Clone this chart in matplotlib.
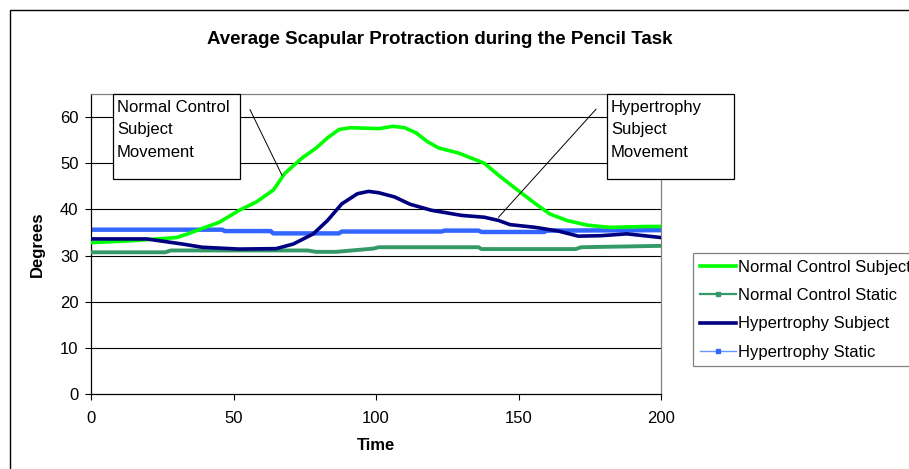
import matplotlib
matplotlib.use("Agg")
from matplotlib import pyplot as plt
from matplotlib.patches import Rectangle

plt.rcParams['font.family'] = ['Liberation Sans', 'DejaVu Sans']

# Normal Control Subject (green)
ncs_x = [0, 14, 30, 34, 40, 45, 52, 58, 64, 68, 74, 79, 83, 87, 91, 101, 106, 110,
         114, 118, 122, 129, 138, 143, 149, 156, 161, 167, 174, 182, 195, 200]
ncs_y = [32.8, 33.2, 33.9, 34.7, 36.1, 37.2, 39.8, 41.6, 44.2, 47.8, 51.1, 53.3, 55.5,
         57.3, 57.7, 57.5, 58.0, 57.7, 56.6, 54.7, 53.3, 52.2, 50.0, 47.4, 44.5, 41.2,
         39.0, 37.6, 36.6, 36.1, 36.3, 36.3]

# Normal Control Static
ncst_x = [0, 26, 28, 76, 79, 86, 99, 101, 136, 137, 170, 172, 200]
ncst_y = [30.7, 30.7, 31.1, 31.1, 30.8, 30.8, 31.5, 31.8, 31.8, 31.4, 31.4, 31.8, 32.1]

# Hypertrophy Subject (navy)
hs_x = [0, 19.5, 32, 39, 52, 65, 71, 78, 83, 88, 93.5, 97.4, 101, 106.5, 112, 119.5,
        130, 138, 143, 147, 156, 164, 171, 179, 188, 200]
hs_y = [33.6, 33.6, 32.5, 31.8, 31.4, 31.5, 32.5, 34.7, 37.6, 41.2, 43.4, 43.9, 43.6,
        42.7, 41.1, 39.8, 38.7, 38.3, 37.6, 36.7, 36.1, 35.3, 34.2, 34.3, 34.7, 33.9]

# Hypertrophy Static
hst_x = [0, 46, 47, 63, 64, 87, 88, 123, 124, 136, 137, 159, 160, 200]
hst_y = [35.6, 35.6, 35.3, 35.3, 34.8, 34.8, 35.2, 35.2, 35.4, 35.4, 35.1, 35.1, 35.4, 35.5]

FS = 12

fig = plt.figure(figsize=(9.09, 4.69), dpi=100)
W, H = 909.0, 469.0
ax = fig.add_axes([91 / W, 1 - 394 / H, 570 / W, 300 / H])

ax.plot(ncs_x, ncs_y, color="#00FF00", lw=2.6, label="Normal Control Subject", zorder=3)
ax.plot(ncst_x, ncst_y, color="#339966", lw=2.8, label="Normal Control Static", zorder=3)
ax.plot(hs_x, hs_y, color="#000080", lw=2.6, label="Hypertrophy Subject", zorder=4)
ax.plot(hst_x, hst_y, color="#3366FF", lw=3.2, label="Hypertrophy Static", zorder=2)

ax.set_xlim(0, 200)
ax.set_ylim(0, 65)
ax.set_xticks([0, 50, 100, 150, 200])
ax.set_yticks(range(0, 70, 10))
ax.tick_params(direction="out", length=4, width=0.8, labelsize=FS, color="black")
ax.tick_params(axis="x", pad=8)
ax.tick_params(axis="y", pad=5)

# gridlines
for v in range(10, 70, 10):
    ax.axhline(v, color="black", lw=0.8, zorder=1)

for s in ["top", "right"]:
    ax.spines[s].set_color("#808080")
    ax.spines[s].set_linewidth(0.9)
for s in ["left", "bottom"]:
    ax.spines[s].set_color("black")
    ax.spines[s].set_linewidth(0.9)

ax.set_xlabel("Time", fontsize=FS, fontweight="bold")
ax.set_ylabel("Degrees", fontsize=FS, fontweight="bold")
ax.xaxis.set_label_coords(0.5, -(446 - 394) / 300, transform=ax.transAxes)
ax.yaxis.set_label_coords((37.5 - 91) / 570, 0.5, transform=ax.transAxes)
ax.xaxis.label.set_va("center")
ax.yaxis.label.set_va("center")

fig.text(440 / W, 1 - 40 / H, "Average Scapular Protraction during the Pencil Task",
         ha="center", va="center", fontsize=13.5, fontweight="bold")

# callout boxes
for bx, txt in [(113, "Normal Control\nSubject\nMovement"), (607, "Hypertrophy\nSubject\nMovement")]:
    fig.add_artist(Rectangle((bx / W, 1 - 179 / H), 127 / W, 85 / H, transform=fig.transFigure,
                             facecolor="white", edgecolor="black", lw=0.9, zorder=5))
    fig.text((bx + 4) / W, 1 - 100 / H, txt, ha="left", va="top", fontsize=FS,
             linespacing=1.62, zorder=6)

ax.plot([55.8, 67], [61.6, 47.4], color="black", lw=0.7, clip_on=False, zorder=5)
ax.plot([177.2, 143], [61.7, 38.3], color="black", lw=0.7, clip_on=False, zorder=5)

# outer frame
fig.add_artist(Rectangle((10 / W, -0.1), 1.2, 1.1 - 10 / H, transform=fig.transFigure,
                         facecolor="none", edgecolor="black", lw=1.0))

handles, labels = ax.get_legend_handles_labels()
leg = fig.legend(handles, labels, loc="upper left", bbox_to_anchor=(693 / W, 1 - 253 / H),
                 borderaxespad=0, fancybox=False, edgecolor="#808080", fontsize=FS,
                 handlelength=2.15, handletextpad=0.12, labelspacing=0.8, borderpad=0.4,
                 framealpha=1)
leg.get_frame().set_linewidth(0.9)
for lh, lw in zip(leg.get_lines(), [2.6, 1.6, 2.6, 1.0]):
    lh.set_linewidth(lw)
for i, mc in [(1, "#339966"), (3, "#3366FF")]:
    lh = leg.get_lines()[i]
    lh.set_marker("s")
    lh.set_markersize(3.5)
    lh.set_markevery([1])
    lh.set_markerfacecolor(mc)
    lh.set_markeredgecolor(mc)
leg.get_lines()[3].set_color("#6699FF")

plt.savefig("out.png", dpi=100)
